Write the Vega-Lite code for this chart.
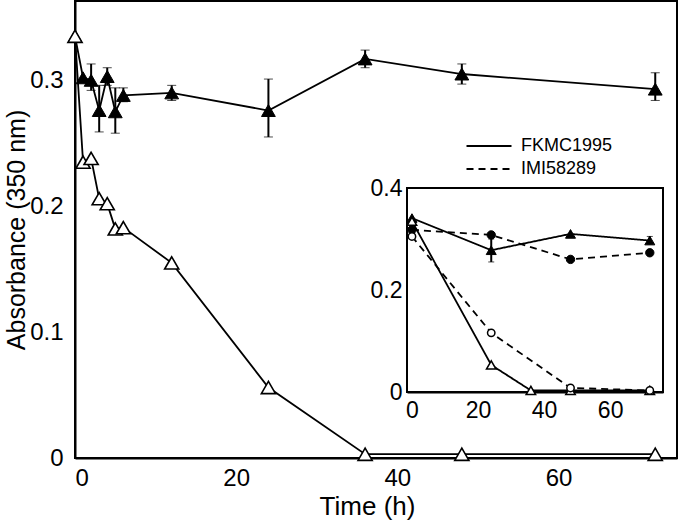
{
  "$schema": "https://vega.github.io/schema/vega-lite/v6.json",
  "width": 602,
  "height": 457,
  "autosize": "none",
  "padding": {"left": 75, "top": 1, "right": 3, "bottom": 64},
  "background": "white",
  "config": {
    "view": {"stroke": "black", "strokeWidth": 2},
    "font": "Liberation Sans",
    "axis": {
      "grid": false,
      "zindex": 1,
      "domainColor": "black",
      "domainWidth": 2,
      "labelColor": "black",
      "labelFont": "Liberation Sans",
      "titleFont": "Liberation Sans",
      "titleColor": "black",
      "titleFontWeight": "normal"
    },
    "legend": {
      "labelFont": "Liberation Sans",
      "labelColor": "black"
    }
  },
  "datasets": {
    "main": [
      {"t": 0, "a": 0.335, "series": "filled"},
      {"t": 1, "a": 0.302, "series": "filled"},
      {"t": 2, "a": 0.300, "series": "filled", "lo": 0.292, "hi": 0.313},
      {"t": 3, "a": 0.276, "series": "filled", "lo": 0.259, "hi": 0.296},
      {"t": 4, "a": 0.303, "series": "filled", "lo": 0.296, "hi": 0.310},
      {"t": 5, "a": 0.275, "series": "filled", "lo": 0.258, "hi": 0.294},
      {"t": 6, "a": 0.288, "series": "filled", "lo": 0.283, "hi": 0.294},
      {"t": 12, "a": 0.290, "series": "filled", "lo": 0.284, "hi": 0.296},
      {"t": 24, "a": 0.276, "series": "filled", "lo": 0.255, "hi": 0.301},
      {"t": 36, "a": 0.317, "series": "filled", "lo": 0.310, "hi": 0.324},
      {"t": 48, "a": 0.305, "series": "filled", "lo": 0.297, "hi": 0.313},
      {"t": 72, "a": 0.293, "series": "filled", "lo": 0.284, "hi": 0.306},
      {"t": 0, "a": 0.335, "series": "open"},
      {"t": 1, "a": 0.235, "series": "open"},
      {"t": 2, "a": 0.238, "series": "open"},
      {"t": 3, "a": 0.206, "series": "open"},
      {"t": 4, "a": 0.202, "series": "open"},
      {"t": 5, "a": 0.182, "series": "open"},
      {"t": 6, "a": 0.183, "series": "open"},
      {"t": 12, "a": 0.155, "series": "open"},
      {"t": 24, "a": 0.056, "series": "open"},
      {"t": 36, "a": 0.003, "series": "open"},
      {"t": 48, "a": 0.003, "series": "open"},
      {"t": 72, "a": 0.003, "series": "open"}
    ],
    "inset": [
      {"t": 0, "a": 0.341, "strain": "FKMC1995", "type": "filled"},
      {"t": 24, "a": 0.278, "strain": "FKMC1995", "type": "filled", "lo": 0.255, "hi": 0.300},
      {"t": 48, "a": 0.310, "strain": "FKMC1995", "type": "filled"},
      {"t": 72, "a": 0.297, "strain": "FKMC1995", "type": "filled", "lo": 0.290, "hi": 0.305},
      {"t": 0, "a": 0.335, "strain": "FKMC1995", "type": "open"},
      {"t": 24, "a": 0.053, "strain": "FKMC1995", "type": "open"},
      {"t": 36, "a": 0.003, "strain": "FKMC1995", "type": "open"},
      {"t": 48, "a": 0.003, "strain": "FKMC1995", "type": "open"},
      {"t": 72, "a": 0.003, "strain": "FKMC1995", "type": "open"},
      {"t": 0, "a": 0.318, "strain": "IMI58289", "type": "filled"},
      {"t": 24, "a": 0.308, "strain": "IMI58289", "type": "filled"},
      {"t": 48, "a": 0.260, "strain": "IMI58289", "type": "filled"},
      {"t": 72, "a": 0.273, "strain": "IMI58289", "type": "filled"},
      {"t": 0, "a": 0.305, "strain": "IMI58289", "type": "open"},
      {"t": 24, "a": 0.116, "strain": "IMI58289", "type": "open"},
      {"t": 48, "a": 0.008, "strain": "IMI58289", "type": "open"},
      {"t": 72, "a": 0.003, "strain": "IMI58289", "type": "open"}
    ]
  },
  "layer": [
    {
      "data": {"name": "main"},
      "encoding": {
        "x": {"field": "t", "type": "quantitative", "scale": {"domain": [0, 74.7], "nice": false, "zero": false}, "axis": null},
        "y": {"field": "a", "type": "quantitative", "scale": {"domain": [0, 0.363], "nice": false, "zero": false}, "axis": null}
      },
      "layer": [
        {
          "data": {"values": [{"v": 0}, {"v": 20}, {"v": 40}, {"v": 60}]},
          "mark": {"type": "rule", "color": "black", "strokeWidth": 2},
          "encoding": {
            "x": {"field": "v", "type": "quantitative", "scale": {"domain": [0, 74.7], "nice": false, "zero": false}, "axis": null},
            "y": {"datum": 0, "type": "quantitative", "axis": null},
            "y2": {"datum": 0.0079}
          }
        },
        {
          "data": {"values": [{"v": 0}, {"v": 0.1}, {"v": 0.2}, {"v": 0.3}]},
          "mark": {"type": "rule", "color": "black", "strokeWidth": 2},
          "encoding": {
            "y": {"field": "v", "type": "quantitative", "scale": {"domain": [0, 0.363], "nice": false, "zero": false}, "axis": null},
            "x": {"datum": 0, "type": "quantitative", "axis": null},
            "x2": {"datum": 1.24}
          }
        },
        {
          "mark": {"type": "line", "color": "black", "strokeWidth": 1.8},
          "encoding": {
            "detail": {"field": "series"},
            "x": {
              "field": "t", "type": "quantitative",
              "scale": {"domain": [0, 74.7], "nice": false, "zero": false},
              "axis": {
                "orient": "bottom",
                "values": [0, 20, 40, 60],
                "ticks": false,
                "labelPadding": 8,
                "labelFontSize": 24,
                "title": "Time (h)",
                "titleFontSize": 26,
                "titlePadding": 3,
                "titleX": 292
              }
            },
            "y": {
              "field": "a", "type": "quantitative",
              "scale": {"domain": [0, 0.363], "nice": false, "zero": false},
              "axis": {
                "orient": "left",
                "values": [0, 0.1, 0.2, 0.3],
                "labelExpr": "datum.value == 0 ? '0' : format(datum.value, '.1f')",
                "ticks": false,
                "labelPadding": 12,
                "labelFontSize": 24,
                "title": "Absorbance  (350 nm)",
                "titleFontSize": 25,
                "titlePadding": 0
              }
            }
          }
        },
        {
          "transform": [{"filter": "isValid(datum.lo)"}],
          "mark": {"type": "errorbar", "ticks": {"size": 9, "color": "black", "strokeWidth": 2}, "rule": {"color": "black", "strokeWidth": 2}},
          "encoding": {
            "y": {"field": "lo", "type": "quantitative", "axis": null},
            "y2": {"field": "hi"}
          }
        },
        {
          "transform": [{"filter": "datum.series == 'filled'"}],
          "mark": {"type": "point", "shape": "triangle-up", "size": 190, "filled": true, "fill": "black", "stroke": "black", "strokeWidth": 1, "opacity": 1}
        },
        {
          "transform": [{"filter": "datum.series == 'open'"}],
          "mark": {"type": "point", "shape": "triangle-up", "size": 200, "filled": true, "fill": "white", "stroke": "black", "strokeWidth": 1.6, "opacity": 1}
        }
      ],
      "resolve": {"axis": {"x": "independent", "y": "independent"}}
    },
    {
      "data": {"name": "inset"},
      "encoding": {
        "x": {"field": "t", "type": "quantitative", "scale": {"domain": [-1.5, 76], "range": [332, 588], "nice": false, "zero": false}, "axis": null},
        "y": {"field": "a", "type": "quantitative", "scale": {"domain": [0, 0.4], "range": [391, 187], "nice": false, "zero": false}, "axis": null}
      },
      "layer": [
        {
          "mark": {"type": "rect", "fill": "white", "stroke": "black", "strokeWidth": 2},
          "encoding": {
            "x": {"datum": -1.5, "type": "quantitative", "axis": null},
            "x2": {"datum": 76},
            "y": {"datum": 0, "type": "quantitative", "axis": null},
            "y2": {"datum": 0.4}
          }
        },
        {
          "data": {"values": [{"v": 0}, {"v": 20}, {"v": 40}, {"v": 60}]},
          "mark": {"type": "rule", "color": "black", "strokeWidth": 2},
          "encoding": {
            "x": {"field": "v", "type": "quantitative", "scale": {"domain": [-1.5, 76], "range": [332, 588], "nice": false, "zero": false}, "axis": null},
            "y": {"datum": 0, "type": "quantitative", "axis": null},
            "y2": {"datum": 0.0137}
          }
        },
        {
          "data": {"values": [{"v": 0}, {"v": 0.1}, {"v": 0.2}, {"v": 0.3}, {"v": 0.4}]},
          "mark": {"type": "rule", "color": "black", "strokeWidth": 2},
          "encoding": {
            "y": {"field": "v", "type": "quantitative", "scale": {"domain": [0, 0.4], "range": [391, 187], "nice": false, "zero": false}, "axis": null},
            "x": {"datum": -1.5, "type": "quantitative", "axis": null},
            "x2": {"datum": 0.62}
          }
        },
        {
          "mark": {"type": "line", "color": "black", "strokeWidth": 1.8},
          "encoding": {
            "detail": {"field": "type"},
            "x": {
              "field": "t", "type": "quantitative",
              "scale": {"domain": [-1.5, 76], "range": [332, 588], "nice": false, "zero": false},
              "axis": {
                "orient": "bottom",
                "offset": -66,
                "values": [0, 20, 40, 60],
                "ticks": false,
                "labelPadding": 7,
                "labelFontSize": 23,
                "title": null
              }
            },
            "y": {
              "field": "a", "type": "quantitative",
              "scale": {"domain": [0, 0.4], "range": [391, 187], "nice": false, "zero": false},
              "axis": {
                "orient": "left",
                "offset": -332,
                "values": [0, 0.2, 0.4],
                "labelExpr": "datum.value == 0 ? '0' : format(datum.value, '.1f')",
                "ticks": false,
                "labelPadding": 5,
                "labelFontSize": 23,
                "title": null
              }
            },
            "strokeDash": {
              "field": "strain", "type": "nominal",
              "scale": {"domain": ["FKMC1995", "IMI58289"], "range": [[1, 0], [7, 5]]},
              "legend": {
                "orient": "none",
                "legendX": 405,
                "legendY": 136,
                "title": null,
                "symbolType": "M-5,0H5",
                "symbolSize": 81,
                "symbolStrokeWidth": 2,
                "symbolStrokeColor": "black",
                "symbolFillColor": "transparent",
                "labelFontSize": 18,
                "labelOffset": 23,
                "rowPadding": 5
              }
            }
          }
        },
        {
          "transform": [{"filter": "isValid(datum.lo)"}],
          "mark": {"type": "errorbar", "ticks": {"size": 6, "color": "black", "strokeWidth": 2}, "rule": {"color": "black", "strokeWidth": 2}},
          "encoding": {
            "y": {"field": "lo", "type": "quantitative", "axis": null},
            "y2": {"field": "hi"}
          }
        },
        {
          "transform": [{"filter": "datum.type == 'filled' && datum.strain == 'FKMC1995'"}],
          "mark": {"type": "point", "shape": "triangle-up", "filled": true, "fill": "black", "stroke": "black", "strokeWidth": 1, "opacity": 1, "size": 100}
        },
        {
          "transform": [{"filter": "datum.type == 'filled' && datum.strain == 'IMI58289'"}],
          "mark": {"type": "point", "shape": "circle", "filled": true, "fill": "black", "stroke": "black", "strokeWidth": 1, "opacity": 1, "size": 70}
        },
        {
          "transform": [{"filter": "datum.type == 'open' && datum.strain == 'FKMC1995'"}],
          "mark": {"type": "point", "shape": "triangle-up", "filled": true, "fill": "white", "stroke": "black", "strokeWidth": 1.5, "opacity": 1, "size": 90}
        },
        {
          "transform": [{"filter": "datum.type == 'open' && datum.strain == 'IMI58289'"}],
          "mark": {"type": "point", "shape": "circle", "filled": true, "fill": "white", "stroke": "black", "strokeWidth": 1.5, "opacity": 1, "size": 55}
        }
      ],
      "resolve": {"axis": {"x": "independent", "y": "independent"}}
    }
  ],
  "resolve": {"scale": {"x": "independent", "y": "independent"}}
}
